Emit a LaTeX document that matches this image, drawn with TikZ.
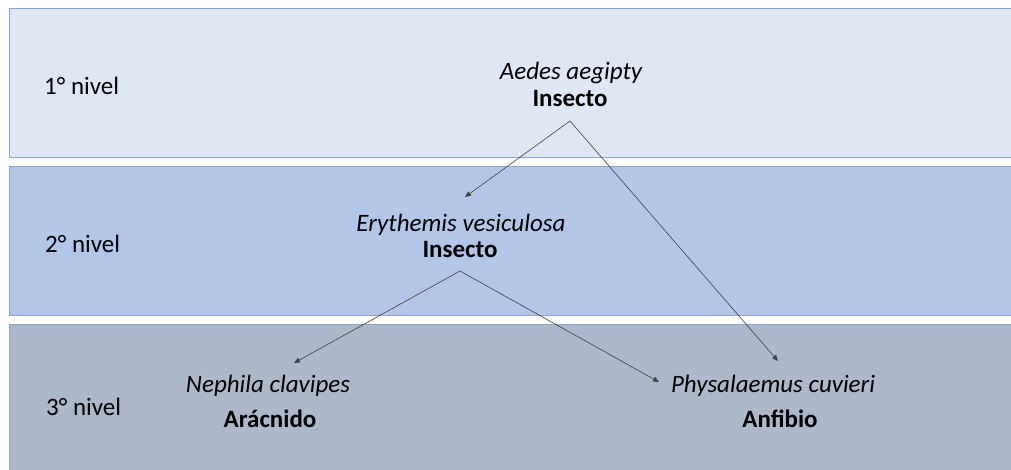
\documentclass[tikz,border=0pt]{standalone}
\usepackage{fontspec}
\setmainfont{Carlito}
\usetikzlibrary{arrows.meta}
\definecolor{bandA}{HTML}{DEE7F3}
\definecolor{bandB}{HTML}{B4C6E7}
\definecolor{bandC}{HTML}{ADB9CA}
\definecolor{bandline}{HTML}{8AA5D4}
\begin{document}
\begin{tikzpicture}[x=1pt,y=-1pt,
  band/.style={draw=bandline,line width=0.8pt},
  lvl/.style={anchor=base west,font=\fontsize{25}{28}\selectfont,inner sep=0pt},
  sp/.style={anchor=base,font=\fontsize{25}{28}\selectfont\itshape,inner sep=0pt},
  grp/.style={anchor=base,font=\fontsize{25}{28}\selectfont\bfseries,inner sep=0pt},
  link/.style={draw=black!75,line width=0.6pt,-{Triangle[length=6pt,width=5pt]}}]
\useasboundingbox (0,0) rectangle (1011,470);
\fill[white] (0,0) rectangle (1011,470);
\path[band,fill=bandA] (9,8) rectangle (1015,157);
\path[band,fill=bandB] (9,166) rectangle (1015,315);
\path[band,fill=bandC] (9,324) rectangle (1015,475);
\node[lvl] (l1) at (44,95) {1° nivel};
\node[lvl] (l2) at (45,252) {2° nivel};
\node[lvl] (l3) at (46,415) {3° nivel};
\node[sp] (a1) at (571,80) {Aedes aegipty};
\node[grp] (a2) at (570,107) {Insecto};
\node[sp] (e1) at (461,232) {Erythemis vesiculosa};
\node[grp] (e2) at (460,258) {Insecto};
\node[sp] (n1) at (268,392) {Nephila clavipes};
\node[grp] (n2) at (270,427) {Arácnido};
\node[sp] (p1) at (773,392) {Physalaemus cuvieri};
\node[grp] (p2) at (780,427) {Anfibio};
\coordinate (ta) at (570,121);
\coordinate (te) at (460,271);
\coordinate (hn) at (294,363);
\coordinate (hp) at (778,361);
\coordinate (he) at (465,197);
\coordinate (hq) at (659,382);
\draw[link] (ta) -- (he);
\draw[link] (ta) -- (hp);
\draw[link] (te) -- (hn);
\draw[link] (te) -- (hq);
\end{tikzpicture}
\end{document}
